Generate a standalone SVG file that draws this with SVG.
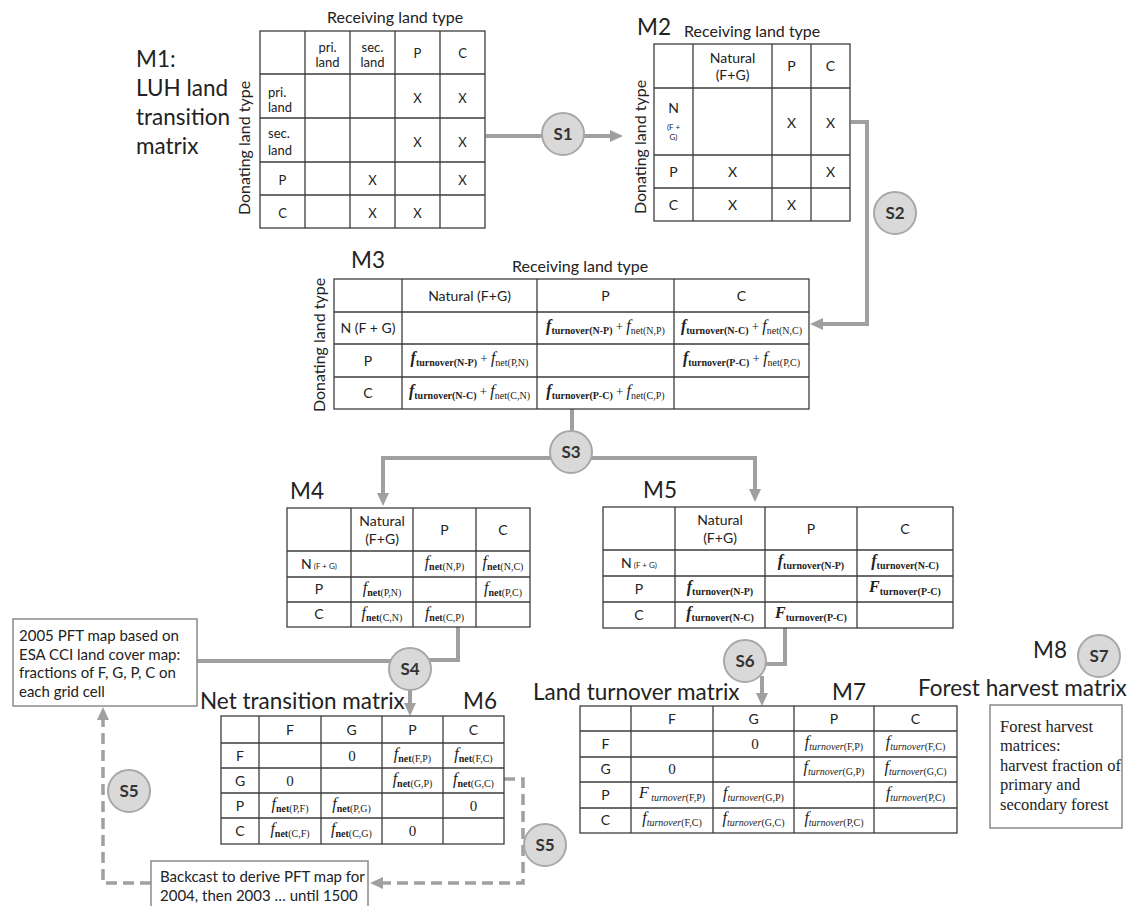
<svg xmlns="http://www.w3.org/2000/svg" width="1129" height="906" viewBox="0 0 1129 906">
<defs>
<style>
.tb{fill:#fff;stroke:#3c3c3c;stroke-width:1.3}
.gl{stroke:#3c3c3c;stroke-width:1.3;fill:none}
.t{font-family:Lato,"Open Sans",sans-serif;fill:#222}
.m{text-anchor:middle}
.s13{font-size:13px}
.s14{font-size:14px}
.s8{font-size:8px}
.ttl{font-size:16px}
.big{font-size:22.5px}
.lbl{font-size:22.5px}
.fx{font-family:"Liberation Serif","Times New Roman",serif;fill:#222;text-anchor:middle;font-size:10px}
.F{font-size:16px;font-style:italic}
.Fb{font-size:16px;font-style:italic;font-weight:bold}
.b{font-weight:bold}
.i{font-style:italic}
.pl{font-size:13px}
.zero{font-family:"Liberation Serif","Times New Roman",serif;font-size:15px;fill:#222;text-anchor:middle}
.cn{fill:none;stroke:#a0a0a0;stroke-width:4}
.dc{fill:none;stroke:#a0a0a0;stroke-width:3.5;stroke-dasharray:11 6}
.circ{fill:#d9d9d9;stroke:#a8a8a8;stroke-width:2}
.sl{font-family:Lato,"Open Sans",sans-serif;font-weight:bold;font-size:17px;fill:#333;text-anchor:middle}
.box{fill:#fff;stroke:#8a8a8a;stroke-width:1.5}
.bt{font-family:Lato,"Open Sans",sans-serif;font-size:15px;fill:#222}
.st{font-family:"Liberation Serif","Times New Roman",serif;font-size:16.5px;fill:#222}
</style>
<marker id="ah" markerUnits="userSpaceOnUse" markerWidth="13" markerHeight="13" viewBox="0 0 13 13" refX="0" refY="6.5" orient="auto"><path d="M0,0.5 L13,6.5 L0,12.5 z" fill="#a0a0a0"/></marker>
</defs>
<rect width="1129" height="906" fill="#fff"/>

<g id="connectors">
<path class="cn" d="M486,136H610" marker-end="url(#ah)"/>
<path class="cn" d="M851,122H867V324H823" marker-end="url(#ah)"/>
<path class="cn" d="M572,409V452"/>
<path class="cn" d="M383,493V458H755V489"/>
<path class="cn" d="M383,480V493" marker-end="url(#ah)"/>
<path class="cn" d="M755,480V489" marker-end="url(#ah)"/>
<path class="cn" d="M197,661H410"/>
<path class="cn" d="M458,627V660H410"/>
<path class="cn" d="M410,669V703" marker-end="url(#ah)"/>
<path class="dc" d="M504,779H523V883H383" marker-end="url(#ah)"/>
<path class="dc" d="M151,883H103V720" marker-end="url(#ah)"/>
<path class="cn" d="M785,628V664H745"/>
<path class="cn" d="M762,676V693" marker-end="url(#ah)"/>
</g>

<g id="M1">
<text class="t lbl" x="136" y="67">M1:</text>
<text class="t lbl" x="136" y="96">LUH land</text>
<text class="t lbl" x="136" y="125">transition</text>
<text class="t lbl" x="136" y="154">matrix</text>
<text class="t ttl" x="327" y="23">Receiving land type</text>
<text class="t ttl m" transform="translate(250,148) rotate(-90)">Donating land type</text>
<rect class="tb" x="260" y="31" width="225" height="197"/>
<path class="gl" d="M305,31V228M350,31V228M395,31V228M440,31V228M260,74H485M260,118H485M260,162H485M260,195H485"/>
<text class="t s13 m" x="327.5" y="52">pri.</text>
<text class="t s13 m" x="327.5" y="67">land</text>
<text class="t s13 m" x="372.5" y="52">sec.</text>
<text class="t s13 m" x="372.5" y="67">land</text>
<text class="t s13 m" x="417.5" y="58">P</text>
<text class="t s13 m" x="462.5" y="58">C</text>
<text class="t s13" x="268" y="97">pri.</text>
<text class="t s13" x="268" y="112">land</text>
<text class="t s13" x="268" y="138">sec.</text>
<text class="t s13" x="268" y="155">land</text>
<text class="t s13 m" x="282.5" y="185">P</text>
<text class="t s13 m" x="282.5" y="218">C</text>
<text class="t s13 m" x="417.5" y="103">X</text>
<text class="t s13 m" x="462.5" y="103">X</text>
<text class="t s13 m" x="417.5" y="147">X</text>
<text class="t s13 m" x="462.5" y="147">X</text>
<text class="t s13 m" x="372.5" y="185">X</text>
<text class="t s13 m" x="462.5" y="185">X</text>
<text class="t s13 m" x="372.5" y="218">X</text>
<text class="t s13 m" x="417.5" y="218">X</text>
</g>

<g id="M2">
<text class="t lbl" x="637" y="35">M2</text>
<text class="t ttl" x="684" y="37">Receiving land type</text>
<text class="t ttl m" transform="translate(646,147) rotate(-90)">Donating land type</text>
<rect class="tb" x="654" y="44" width="196" height="177"/>
<path class="gl" d="M693,44V221M772,44V221M811,44V221M654,88H850M654,155H850M654,188H850"/>
<text class="t s14 m" x="732.5" y="63">Natural</text>
<text class="t s14 m" x="732.5" y="80">(F+G)</text>
<text class="t s14 m" x="791.5" y="71">P</text>
<text class="t s14 m" x="830.5" y="71">C</text>
<text class="t s14 m" x="673.5" y="113">N</text>
<text class="t s8 m" x="673.5" y="130">(F +</text>
<text class="t s8 m" x="673.5" y="140">G)</text>
<text class="t s14 m" x="791.5" y="128">X</text>
<text class="t s14 m" x="830.5" y="128">X</text>
<text class="t s14 m" x="673.5" y="177">P</text>
<text class="t s14 m" x="732.5" y="177">X</text>
<text class="t s14 m" x="830.5" y="177">X</text>
<text class="t s14 m" x="673.5" y="210">C</text>
<text class="t s14 m" x="732.5" y="210">X</text>
<text class="t s14 m" x="791.5" y="210">X</text>
</g>

<g id="M3">
<text class="t lbl" x="351" y="268">M3</text>
<text class="t ttl" x="512" y="272">Receiving land type</text>
<text class="t ttl m" transform="translate(325,345) rotate(-90)">Donating land type</text>
<rect class="tb" x="334" y="279" width="475" height="130"/>
<path class="gl" d="M402,279V409M537,279V409M674,279V409M334,312H809M334,344H809M334,377H809"/>
<text class="t s14 m" x="469.5" y="301">Natural (F+G)</text>
<text class="t s14 m" x="605.5" y="301">P</text>
<text class="t s14 m" x="741.5" y="301">C</text>
<text class="t s14 m" x="368" y="333">N (F + G)</text>
<text class="t s14 m" x="368" y="366">P</text>
<text class="t s14 m" x="368" y="398">C</text>
<text class="fx" x="605.5" y="331"><tspan class="Fb">f</tspan><tspan class="b" dy="3">turnover(N-P)</tspan><tspan class="pl" dy="-3">&#160;+&#160;</tspan><tspan class="F">f</tspan><tspan dy="3">net(N,P)</tspan></text>
<text class="fx" x="741.5" y="331"><tspan class="Fb">f</tspan><tspan class="b" dy="3">turnover(N-C)</tspan><tspan class="pl" dy="-3">&#160;+&#160;</tspan><tspan class="F">f</tspan><tspan dy="3">net(N,C)</tspan></text>
<text class="fx" x="469.5" y="363"><tspan class="Fb">f</tspan><tspan class="b" dy="3">turnover(N-P)</tspan><tspan class="pl" dy="-3">&#160;+&#160;</tspan><tspan class="F">f</tspan><tspan dy="3">net(P,N)</tspan></text>
<text class="fx" x="741.5" y="363"><tspan class="Fb">f</tspan><tspan class="b" dy="3">turnover(P-C)</tspan><tspan class="pl" dy="-3">&#160;+&#160;</tspan><tspan class="F">f</tspan><tspan dy="3">net(P,C)</tspan></text>
<text class="fx" x="469.5" y="396"><tspan class="Fb">f</tspan><tspan class="b" dy="3">turnover(N-C)</tspan><tspan class="pl" dy="-3">&#160;+&#160;</tspan><tspan class="F">f</tspan><tspan dy="3">net(C,N)</tspan></text>
<text class="fx" x="605.5" y="396"><tspan class="Fb">f</tspan><tspan class="b" dy="3">turnover(P-C)</tspan><tspan class="pl" dy="-3">&#160;+&#160;</tspan><tspan class="F">f</tspan><tspan dy="3">net(C,P)</tspan></text>
</g>

<g id="M4">
<text class="t lbl" x="290" y="499">M4</text>
<rect class="tb" x="287" y="508" width="243" height="119"/>
<path class="gl" d="M351,508V627M413,508V627M476,508V627M287,551H530M287,577H530M287,602H530"/>
<text class="t s14 m" x="382" y="526">Natural</text>
<text class="t s14 m" x="382" y="544">(F+G)</text>
<text class="t s14 m" x="444.5" y="535">P</text>
<text class="t s14 m" x="503" y="535">C</text>
<text class="t s14 m" x="319" y="569">N<tspan class="s8"> (F + G)</tspan></text>
<text class="t s14 m" x="319" y="594">P</text>
<text class="t s14 m" x="319" y="619">C</text>
<text class="fx" x="444.5" y="567"><tspan class="F">f</tspan><tspan class="b" dy="3">net</tspan><tspan>(N,P)</tspan></text>
<text class="fx" x="503" y="567"><tspan class="F">f</tspan><tspan class="b" dy="3">net</tspan><tspan>(N,C)</tspan></text>
<text class="fx" x="382" y="593"><tspan class="F">f</tspan><tspan class="b" dy="3">net</tspan><tspan>(P,N)</tspan></text>
<text class="fx" x="503" y="593"><tspan class="F">f</tspan><tspan class="b" dy="3">net</tspan><tspan>(P,C)</tspan></text>
<text class="fx" x="382" y="618"><tspan class="F">f</tspan><tspan class="b" dy="3">net</tspan><tspan>(C,N)</tspan></text>
<text class="fx" x="444.5" y="618"><tspan class="F">f</tspan><tspan class="b" dy="3">net</tspan><tspan>(C,P)</tspan></text>
</g>

<g id="M5">
<text class="t lbl" x="643" y="498">M5</text>
<rect class="tb" x="603" y="507" width="350" height="121"/>
<path class="gl" d="M675,507V628M765,507V628M857,507V628M603,550H953M603,576H953M603,602H953"/>
<text class="t s14 m" x="720" y="525">Natural</text>
<text class="t s14 m" x="720" y="543">(F+G)</text>
<text class="t s14 m" x="811" y="534">P</text>
<text class="t s14 m" x="905" y="534">C</text>
<text class="t s14 m" x="639" y="568">N<tspan class="s8"> (F + G)</tspan></text>
<text class="t s14 m" x="639" y="594">P</text>
<text class="t s14 m" x="639" y="620">C</text>
<text class="fx" x="811" y="566"><tspan class="Fb">f</tspan><tspan class="b" dy="3">turnover(N-P)</tspan></text>
<text class="fx" x="905" y="566"><tspan class="Fb">f</tspan><tspan class="b" dy="3">turnover(N-C)</tspan></text>
<text class="fx" x="720" y="592"><tspan class="Fb">f</tspan><tspan class="b" dy="3">turnover(N-P)</tspan></text>
<text class="fx" x="905" y="592"><tspan class="Fb">F</tspan><tspan class="b" dy="3">turnover(P-C)</tspan></text>
<text class="fx" x="720" y="618"><tspan class="Fb">f</tspan><tspan class="b" dy="3">turnover(N-C)</tspan></text>
<text class="fx" x="811" y="618"><tspan class="Fb">F</tspan><tspan class="b" dy="3">turnover(P-C)</tspan></text>
</g>

<g id="pft2005">
<rect class="box" x="13" y="619" width="184" height="87"/>
<text class="bt" x="19" y="641">2005 PFT map based on</text>
<text class="bt" x="19" y="660">ESA CCI land cover map:</text>
<text class="bt" x="19" y="678">fractions of F, G, P, C on</text>
<text class="bt" x="19" y="697">each grid cell</text>
</g>

<g id="M6">
<text class="t big" x="200" y="709">Net transition matrix</text>
<text class="t big" x="463" y="709">M6</text>
<rect class="tb" x="221" y="716" width="283" height="128"/>
<path class="gl" d="M259,716V844M321,716V844M382,716V844M443,716V844M221,743H504M221,768H504M221,793H504M221,818H504"/>
<text class="t s14 m" x="290" y="735">F</text>
<text class="t s14 m" x="351.5" y="735">G</text>
<text class="t s14 m" x="412.5" y="735">P</text>
<text class="t s14 m" x="473.5" y="735">C</text>
<text class="t s14 m" x="240" y="761">F</text>
<text class="t s14 m" x="240" y="786">G</text>
<text class="t s14 m" x="240" y="811">P</text>
<text class="t s14 m" x="240" y="836">C</text>
<text class="zero" x="352" y="761">0</text>
<text class="zero" x="290" y="786">0</text>
<text class="zero" x="473.5" y="811">0</text>
<text class="zero" x="412.5" y="836">0</text>
<text class="fx" x="412.5" y="759"><tspan class="F">f</tspan><tspan class="b" dy="3">net</tspan><tspan>(F,P)</tspan></text>
<text class="fx" x="473.5" y="759"><tspan class="F">f</tspan><tspan class="b" dy="3">net</tspan><tspan>(F,C)</tspan></text>
<text class="fx" x="412.5" y="784"><tspan class="F">f</tspan><tspan class="b" dy="3">net</tspan><tspan>(G,P)</tspan></text>
<text class="fx" x="473.5" y="784"><tspan class="F">f</tspan><tspan class="b" dy="3">net</tspan><tspan>(G,C)</tspan></text>
<text class="fx" x="290" y="809"><tspan class="F">f</tspan><tspan class="b" dy="3">net</tspan><tspan>(P,F)</tspan></text>
<text class="fx" x="351.5" y="809"><tspan class="F">f</tspan><tspan class="b" dy="3">net</tspan><tspan>(P,G)</tspan></text>
<text class="fx" x="290" y="834"><tspan class="F">f</tspan><tspan class="b" dy="3">net</tspan><tspan>(C,F)</tspan></text>
<text class="fx" x="351.5" y="834"><tspan class="F">f</tspan><tspan class="b" dy="3">net</tspan><tspan>(C,G)</tspan></text>
</g>

<g id="backcast">
<rect class="box" x="151" y="861" width="217" height="55"/>
<text class="bt" x="160" y="882">Backcast to derive PFT map for</text>
<text class="bt" x="160" y="901">2004, then 2003 … until 1500</text>
</g>

<g id="M7">
<text class="t big" x="533" y="700">Land turnover matrix</text>
<text class="t big" x="832" y="700">M7</text>
<rect class="tb" x="580" y="706" width="377" height="127"/>
<path class="gl" d="M631,706V833M713,706V833M794,706V833M874,706V833M580,731H957M580,757H957M580,782H957M580,808H957"/>
<text class="t s14 m" x="672" y="724">F</text>
<text class="t s14 m" x="753.5" y="724">G</text>
<text class="t s14 m" x="834" y="724">P</text>
<text class="t s14 m" x="915.5" y="724">C</text>
<text class="t s14 m" x="605.5" y="749">F</text>
<text class="t s14 m" x="605.5" y="774">G</text>
<text class="t s14 m" x="605.5" y="800">P</text>
<text class="t s14 m" x="605.5" y="825">C</text>
<text class="zero" x="755" y="749">0</text>
<text class="zero" x="672" y="774">0</text>
<text class="fx" x="834" y="747"><tspan class="F">f</tspan><tspan class="i" dy="3">turnover</tspan><tspan>(F,P)</tspan></text>
<text class="fx" x="915.5" y="747"><tspan class="F">f</tspan><tspan class="i" dy="3">turnover</tspan><tspan>(F,C)</tspan></text>
<text class="fx" x="834" y="772"><tspan class="F">f</tspan><tspan class="i" dy="3">turnover</tspan><tspan>(G,P)</tspan></text>
<text class="fx" x="915.5" y="772"><tspan class="F">f</tspan><tspan class="i" dy="3">turnover</tspan><tspan>(G,C)</tspan></text>
<text class="fx" x="672" y="798"><tspan class="F">F</tspan><tspan class="i" dy="3">&#160;turnover</tspan><tspan>(F,P)</tspan></text>
<text class="fx" x="753.5" y="798"><tspan class="F">f</tspan><tspan class="i" dy="3">turnover</tspan><tspan>(G,P)</tspan></text>
<text class="fx" x="915.5" y="798"><tspan class="F">f</tspan><tspan class="i" dy="3">turnover</tspan><tspan>(P,C)</tspan></text>
<text class="fx" x="672" y="823"><tspan class="F">f</tspan><tspan class="i" dy="3">turnover</tspan><tspan>(F,C)</tspan></text>
<text class="fx" x="753.5" y="823"><tspan class="F">f</tspan><tspan class="i" dy="3">turnover</tspan><tspan>(G,C)</tspan></text>
<text class="fx" x="834" y="823"><tspan class="F">f</tspan><tspan class="i" dy="3">turnover</tspan><tspan>(P,C)</tspan></text>
</g>

<g id="M8">
<text class="t big" x="1033" y="658">M8</text>
<text class="t big" x="918" y="696">Forest harvest matrix</text>
<rect class="box" x="990" y="705" width="132" height="123"/>
<text class="st" x="1000" y="732">Forest harvest</text>
<text class="st" x="1000" y="751">matrices:</text>
<text class="st" x="1000" y="771">harvest fraction of</text>
<text class="st" x="1000" y="790">primary and</text>
<text class="st" x="1000" y="810">secondary forest</text>
</g>

<g id="S1"><circle class="circ" cx="563" cy="134" r="21"/><text class="sl" x="563" y="140">S1</text></g>
<g id="S2"><circle class="circ" cx="895" cy="213" r="21"/><text class="sl" x="895" y="219">S2</text></g>
<g id="S3"><circle class="circ" cx="571" cy="452" r="21"/><text class="sl" x="571" y="458">S3</text></g>
<g id="S4"><circle class="circ" cx="410" cy="669" r="21"/><text class="sl" x="410" y="675">S4</text></g>
<g id="S5a"><circle class="circ" cx="129" cy="791" r="21"/><text class="sl" x="129" y="797">S5</text></g>
<g id="S5b"><circle class="circ" cx="545" cy="845" r="21"/><text class="sl" x="545" y="851">S5</text></g>
<g id="S6"><circle class="circ" cx="745" cy="661" r="21"/><text class="sl" x="745" y="667">S6</text></g>
<g id="S7"><circle class="circ" cx="1099" cy="656" r="21"/><text class="sl" x="1099" y="662">S7</text></g>
</svg>
